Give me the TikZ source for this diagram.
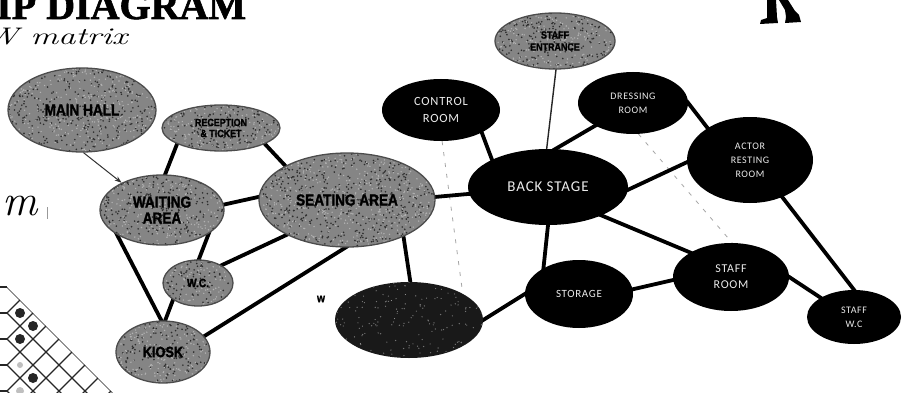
\documentclass[tikz,border=0pt]{standalone}
\usepackage{fontspec}
\usepackage{graphicx}
\usetikzlibrary{shapes.geometric,arrows.meta,backgrounds}

\newfontfamily\heavyfont[FakeStretch=0.85,FakeBold=1.6]{Liberation Sans}
\newfontfamily\roomfont[LetterSpace=6]{Carlito}
\newfontfamily\titlefont[FakeBold=1.5]{Liberation Serif}

% random specks inside the current path picture: count, colour, radius
\newcommand\speckle[3]{%
  \pgfpointdiff{\pgfpointanchor{path picture bounding box}{south west}}%
               {\pgfpointanchor{path picture bounding box}{north east}}%
  \pgfgetlastxy{\spw}{\sph}%
  \foreach \k in {1,...,#1}{%
    \fill[#2] ([xshift={rnd*\spw},yshift={rnd*\sph}]path picture bounding box.south west) circle (#3);
  }%
}

\tikzset{
  room/.style={ellipse, fill=black, text=white!92!black, inner sep=0pt, align=center},
  grainy/.style={ellipse, fill=black!48, draw=black!70, line width=1.3pt, inner sep=0pt,
    align=center, text=black,
    path picture={\speckle{#1}{black!82}{0.9pt}\speckle{#1}{white!70!black}{0.8pt}}},
  heavylbl/.style n args={2}{font=\heavyfont\bfseries\fontsize{#1}{#2}\selectfont},
  roomlbl/.style n args={2}{font=\roomfont\fontsize{#1}{#2}\selectfont},
  link/.style={line width=3.8pt, black, shorten <=-3pt, shorten >=-3pt},
  thinlink/.style={line width=1.4pt, black!85, shorten <=-2pt, shorten >=-2pt},
  faint/.style={line width=0.8pt, black!35, dash pattern=on 4pt off 7pt},
  gridline/.style={line width=1.2pt, black!85},
}

\begin{document}
\begin{tikzpicture}[x=1pt,y=-1pt]
\pgfmathsetseed{42}
\path[use as bounding box] (0,0) rectangle (909,393);
\clip (0,0) rectangle (909,393);

% ---- headings and margin scribbles ----
\node[anchor=base west, inner sep=0pt, font=\titlefont\bfseries\fontsize{40}{40}\selectfont] (title) at (-4,19) {IP DIAGRAM};
\node[anchor=base west, inner sep=0pt, font=\itshape\fontsize{24}{24}\selectfont] (sub) at (-16,45) {\scalebox{1.45}[1]{W matrix}};
\node[anchor=base west, inner sep=0pt, font=\itshape\fontsize{44}{44}\selectfont] (mark) at (2,215) {m};
\draw[black!40, line width=0.6pt] (47,207) -- (47,219);
\node[inner sep=0pt, font=\heavyfont\bfseries\fontsize{12}{12}\selectfont] (wmark) at (321,299) {w};

% ---- boots in the top right corner ----
\fill[black] (767,0) -- (776,0) -- (777,17) -- (778,23) -- (760,24) -- (761,20) -- (767,18) -- cycle;
\fill[black] (779,0) -- (788,0) -- (795,11) -- (799,15) -- (801,22) -- (785,23) -- (786,17) -- (785,10) -- cycle;

% ---- board lattice in the lower left corner ----
\begin{scope}
  \clip (7,287) -- (125,405) -- (7,405) -- cycle;
  \foreach \c in {0,...,6} \draw[gridline] (0,{280+26*\c}) -- (140,{420+26*\c});
  \foreach \c in {0,...,9} \draw[gridline] (0,{294+26*\c}) -- (140,{154+26*\c});
\end{scope}
\foreach \y in {287,313,339,365,391} \draw[gridline] (0,\y) -- (7,\y);
\fill[black!85] (20,313) circle (5pt);
\fill[black!85] (33,326) circle (5pt);
\fill[black!85] (20,339) circle (5pt);
\fill[black!85] (33,378) circle (5pt);
\fill[black!25] (20,365) circle (3pt);
\fill[black!25] (20,391) circle (4pt);

% ---- front of house (textured ellipses) ----
\node[grainy=400, minimum width=148, minimum height=84, heavylbl={16}{17}] (main) at (82,110) {MAIN HALL};
\node[grainy=180, minimum width=118, minimum height=46, heavylbl={10.5}{11}] (rec) at (221,128) {RECEPTION\\\& TICKET};
\node[grainy=290, minimum width=124, minimum height=70, heavylbl={16}{16}] (wait) at (162,210) {WAITING\\AREA};
\node[grainy=550, minimum width=176, minimum height=94, heavylbl={16}{17}] (seat) at (347,200) {SEATING AREA};
\node[grainy=110, minimum width=70, minimum height=46, heavylbl={12}{12}] (wc) at (198,283) {W.C.};
\node[grainy=190, minimum width=94, minimum height=62, heavylbl={15}{15}] (kiosk) at (163,352) {KIOSK};
\node[grainy=220, minimum width=120, minimum height=56, heavylbl={10.5}{12}] (ent) at (555,41) {STAFF\\ENTRANCE};

% ---- back of house (black ellipses) ----
\node[ellipse, fill=black!90, inner sep=0pt, minimum width=148, minimum height=76,
      path picture={\speckle{140}{black!55}{0.7pt}\speckle{60}{black!35}{0.5pt}}] (dark) at (409,320) {};
\node[room, minimum width=118, minimum height=62, roomlbl={12.5}{17}] (ctrl) at (441,110) {CONTROL\\ROOM};
\node[room, minimum width=160, minimum height=76, roomlbl={15}{16}] (back) at (548,187) {BACK STAGE};
\node[room, minimum width=110, minimum height=62, roomlbl={10}{14}] (dress) at (633,103) {DRESSING\\ROOM};
\node[room, minimum width=126, minimum height=86, roomlbl={10}{14}] (actor) at (750,160) {ACTOR\\RESTING\\ROOM};
\node[room, minimum width=108, minimum height=68, roomlbl={11}{12}] (store) at (579,294) {STORAGE};
\node[room, minimum width=116, minimum height=68, roomlbl={12}{16}] (sroom) at (731,277) {STAFF\\ROOM};
\node[room, minimum width=94, minimum height=54, roomlbl={10}{14}] (swc) at (854,317) {STAFF\\W.C};

\coordinate (ctrlend) at (462,288);

% ---- connectors ----
\begin{scope}[on background layer]
  \fill[white] (0,0) rectangle (909,393);
  \draw[faint] (ctrl.272) -- (ctrlend);
  \draw[faint] (dress.280) -- (sroom.88);
  \draw[link] (rec.200) -- (wait.85);
  \draw[link] (rec.340) -- (seat.151);
  \draw[link] (wait.5) -- (seat.178);
  \draw[link] (wait.333) -- (wc.88);
  \draw[link] (wait.209) -- (kiosk.93);
  \draw[link] (wc.214) -- (kiosk.86);
  \draw[link] (wc.37) -- (seat.210);
  \draw[link] (kiosk.21) -- (seat.268);
  \draw[link] (seat.327) -- (dark.88);
  \draw[link] (seat.2) -- (back.185);
  \draw[link] (ctrl.331) -- (back.154);
  \draw[thinlink] (ent.272) -- (back.92);
  \draw[link] (dress.211) -- (back.79);
  \draw[link] (back.358) -- (actor.182);
  \draw[link] (dress.0) -- (actor.143);
  \draw[link] (back.270) -- (store.144);
  \draw[link] (back.332) -- (sroom.149);
  \draw[link] (dark.0) -- (store.180);
  \draw[link] (store.5) -- (sroom.183);
  \draw[link] (sroom.0) -- (swc.150);
  \draw[link] (actor.311) -- (swc.90);
\end{scope}
\draw[line width=1pt, black!80, -{Stealth[length=7pt,width=5pt]}] (main.272) -- (wait.146);

\end{tikzpicture}
\end{document}
